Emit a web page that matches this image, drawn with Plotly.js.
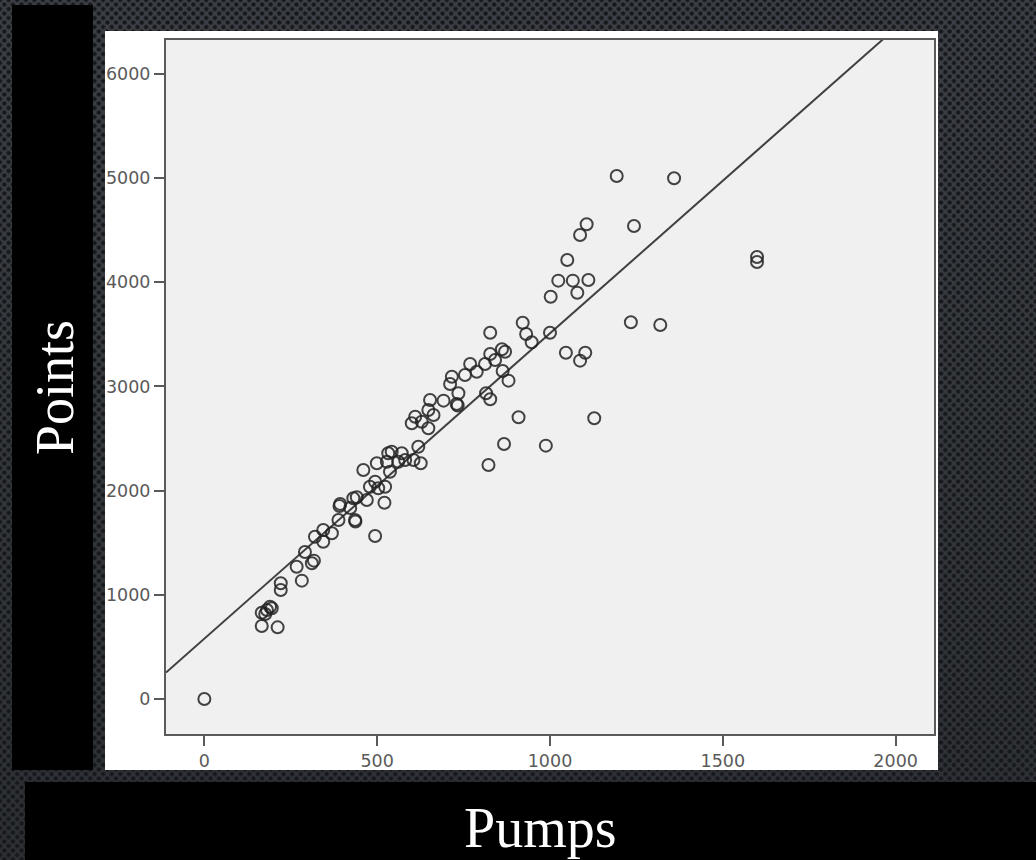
<!DOCTYPE html>
<html>
<head>
<meta charset="utf-8">
<script src="https://cdn.plot.ly/plotly-3.0.1.min.js"></script>
<style>
  html, body { margin: 0; padding: 0; }
  body {
    width: 1036px; height: 860px; overflow: hidden;
    background-color: #3a3d42;
    background-image:
      radial-gradient(circle, #16181b 1.7px, rgba(0,0,0,0) 2.6px),
      radial-gradient(circle, #16181b 1.7px, rgba(0,0,0,0) 2.6px),
      linear-gradient(#3c4046, #2c2f33);
    background-size: 8.6px 9px, 8.6px 9px, 100% 100%;
    background-position: 0 0, 4.3px 4.5px, 0 0;
  }
  #chart { width: 1036px; height: 860px; }
</style>
</head>
<body>
<div id="chart"></div>
<script>
// Pumps vs. Points, one circle per player
const pumps = [0, 166, 176, 181, 190, 195, 166, 212, 221, 221, 282, 267, 291, 311, 317, 320, 344, 344, 369, 388,
  391, 393, 422, 431, 436, 437, 441, 470, 494, 460, 479, 494, 503, 523, 521, 499, 528, 532, 542, 537,
  571, 561, 581, 605, 619, 626, 600, 629, 648, 610, 648, 663, 653, 692, 730, 733, 735, 711, 716, 754,
  788, 769, 812, 827, 841, 861, 870, 827, 863, 880, 815, 827, 909, 867, 822, 921, 931, 947, 1000, 1046,
  1087, 1102, 1128, 988, 1193, 1359, 1106, 1087, 1243, 1050, 1024, 1066, 1111, 1079, 1002, 1234, 1319, 1599, 1599];
const points = [0, 828, 816, 854, 886, 871, 701, 688, 1111, 1046, 1136, 1270, 1411, 1303, 1328, 1558, 1622, 1510, 1591, 1718,
  1853, 1872, 1834, 1927, 1718, 1704, 1936, 1910, 1565, 2198, 2038, 2086, 2023, 2038, 1884, 2263, 2278, 2359, 2374, 2182,
  2359, 2278, 2294, 2294, 2422, 2263, 2647, 2662, 2599, 2710, 2774, 2726, 2870, 2864, 2832, 2818, 2935, 3024, 3094, 3110,
  3142, 3216, 3216, 3312, 3254, 3357, 3334, 3516, 3149, 3056, 2935, 2877, 2704, 2448, 2246, 3612, 3504, 3424, 3516, 3324,
  3248, 3324, 2695, 2432, 5021, 4999, 4557, 4454, 4541, 4214, 4016, 4016, 4022, 3900, 3862, 3616, 3590, 4243, 4195];

// Linear fit line: points = fitIntercept + fitSlope * pumps
const fitIntercept = 580;
const fitSlope = 2.93;

const xTicks = [0, 500, 1000, 1500, 2000];
const yTicks = [0, 1000, 2000, 3000, 4000, 5000, 6000];
const xRange = [-111, 2111];
const yRange = [-336, 6326];

const fitX = [xRange[0], xRange[1]];
const fitY = fitX.map(v => fitIntercept + fitSlope * v);

const frameColor = '#5a5a5a';
const tickFont = { family: 'DejaVu Sans, sans-serif', size: 17.5, color: '#5a5a5a' };

const traces = [
  {
    x: fitX, y: fitY, type: 'scatter', mode: 'lines',
    line: { color: '#404040', width: 2 },
    hoverinfo: 'skip', showlegend: false
  },
  {
    x: pumps, y: points, type: 'scatter', mode: 'markers',
    marker: { symbol: 'circle-open', size: 12, color: 'rgba(35,35,35,0.85)', line: { width: 2 } },
    showlegend: false
  }
];

const layout = {
  width: 1036, height: 860,
  margin: { l: 166, r: 102, t: 40, b: 126, pad: 0 },
  paper_bgcolor: 'rgba(0,0,0,0)',
  plot_bgcolor: 'rgba(0,0,0,0)',
  xaxis: {
    range: xRange, tickvals: xTicks, ticktext: xTicks.map(String),
    showgrid: false, zeroline: false,
    showline: true, mirror: true, linecolor: frameColor, linewidth: 2,
    ticks: 'outside', ticklen: 10, tickwidth: 2, tickcolor: frameColor,
    tickfont: tickFont
  },
  yaxis: {
    range: yRange, tickvals: yTicks, ticktext: yTicks.map(String),
    showgrid: false, zeroline: false,
    showline: true, mirror: true, linecolor: frameColor, linewidth: 2,
    ticks: 'outside', ticklen: 10, tickwidth: 2, tickcolor: frameColor,
    tickfont: tickFont
  },
  shapes: [
    // white card holding the chart
    { type: 'rect', xref: 'paper', yref: 'paper', layer: 'below',
      x0: -0.0794, x1: 1.0052, y0: -0.0519, y1: 1.0130,
      fillcolor: '#ffffff', line: { width: 0 } },
    // plot area fill
    { type: 'rect', xref: 'paper', yref: 'paper', layer: 'below',
      x0: 0, x1: 1, y0: 0, y1: 1,
      fillcolor: '#f0f0f0', line: { width: 0 } },
    // black label bar on the left
    { type: 'rect', xref: 'paper', yref: 'paper', layer: 'below',
      x0: -0.2005, x1: -0.0951, y0: -0.0519, y1: 1.0504,
      fillcolor: '#000000', line: { width: 0 } },
    // black label bar along the bottom
    { type: 'rect', xref: 'paper', yref: 'paper', layer: 'below',
      x0: -0.1836, x1: 1.1328, y0: -0.1816, y1: -0.0692,
      fillcolor: '#000000', line: { width: 0 } }
  ],
  annotations: [
    { text: 'Points', xref: 'paper', yref: 'paper', x: -0.1445, y: 0.4986,
      xanchor: 'center', yanchor: 'middle', textangle: -90, showarrow: false,
      font: { family: 'Liberation Serif, serif', size: 54, color: '#ffffff' } },
    { text: 'Pumps', xref: 'paper', yref: 'paper', x: 0.487, y: -0.1354,
      xanchor: 'center', yanchor: 'middle', showarrow: false,
      font: { family: 'Liberation Serif, serif', size: 56, color: '#ffffff' } }
  ]
};

Plotly.newPlot('chart', traces, layout, { displayModeBar: false, staticPlot: true });
</script>
</body>
</html>
